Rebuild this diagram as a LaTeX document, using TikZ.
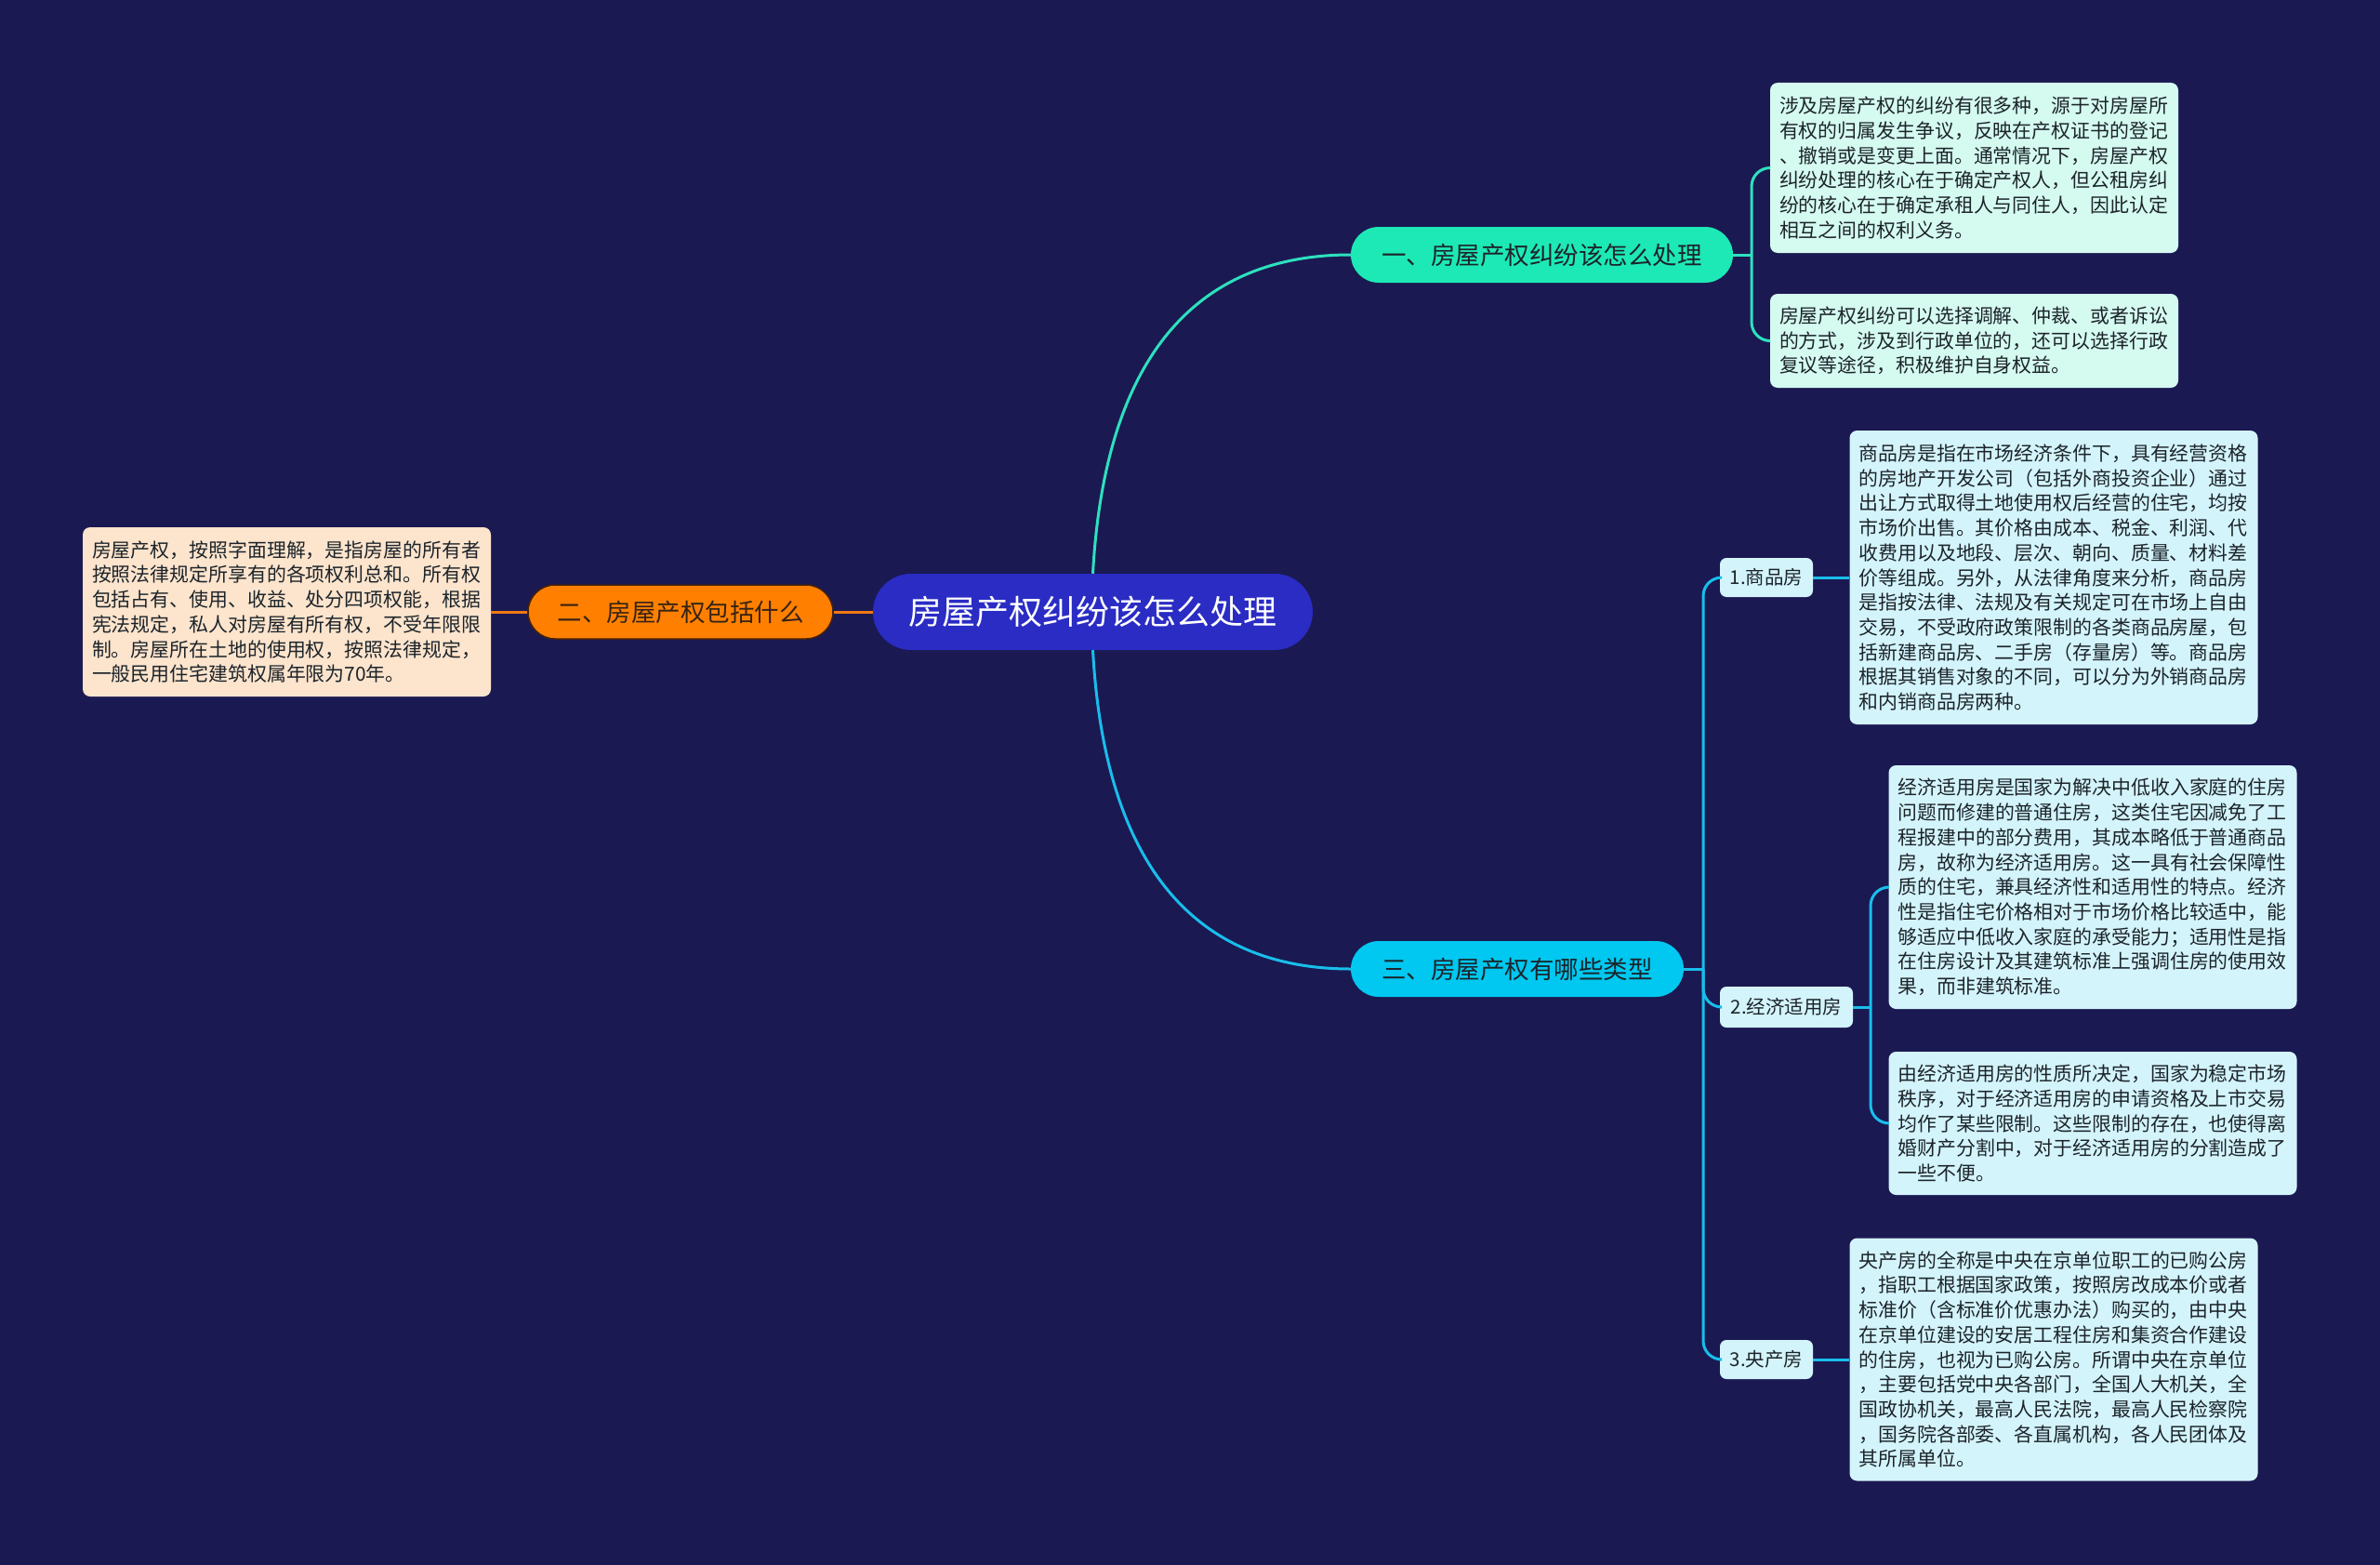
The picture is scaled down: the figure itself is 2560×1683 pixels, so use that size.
\documentclass[tikz,border=0pt]{standalone}
\usepackage{fontspec}
\newfontfamily\cjk{Noto Sans CJK SC}
\definecolor{bgc}{RGB}{27,25,82}
\definecolor{rootc}{RGB}{42,44,196}
\definecolor{tealc}{RGB}{29,233,182}
\definecolor{teall}{RGB}{45,225,190}
\definecolor{cyanc}{RGB}{0,200,240}
\definecolor{cyanl}{RGB}{24,190,235}
\definecolor{orangec}{RGB}{255,128,0}
\definecolor{orangel}{RGB}{240,120,20}
\definecolor{orangeb}{RGB}{70,35,10}
\definecolor{leafteal}{RGB}{213,250,240}
\definecolor{leafcyan}{RGB}{212,244,252}
\definecolor{leafpeach}{RGB}{253,228,205}
\definecolor{txtc}{RGB}{28,36,42}
\begin{document}
\begin{tikzpicture}[x=1pt,y=-1pt,
  rootnode/.style={fill=rootc,text=white,minimum width=473pt,minimum height=82pt,rounded corners=41pt,inner sep=0pt,font=\cjk\fontsize{36pt}{40pt}\selectfont},
  branch/.style={minimum height=60pt,rounded corners=30pt,inner sep=0pt,text=txtc,font=\cjk\fontsize{26.5pt}{30pt}\selectfont},
  subnode/.style={fill=leafcyan,rounded corners=7pt,inner sep=0pt,text=txtc,font=\cjk\fontsize{20.5pt}{24pt}\selectfont},
  leaf/.style={rounded corners=8pt,inner xsep=10pt,inner ysep=0pt,align=left,text=txtc,text width=419pt,font=\cjk\fontsize{20.9pt}{26.7pt}\selectfont},
  lteal/.style={draw=teall,line width=3pt},
  lcyan/.style={draw=cyanl,line width=3pt},
  lorange/.style={draw=orangel,line width=3pt},
  roundbend/.style={rounded corners=20pt}]
\useasboundingbox (0,0) rectangle (2560,1683);
\fill[bgc] (0,0) rectangle (2560,1683);
% nodes
\node[rootnode] (c) at (1175.5,658) {房屋产权纠纷该怎么处理};
\node[branch,fill=tealc,minimum width=411pt] (b1) at (1658.5,274) {一、房屋产权纠纷该怎么处理};
\node[branch,fill=orangec,draw=orangeb,line width=1.5pt,minimum width=328pt,minimum height=58pt,rounded corners=29pt,text={rgb,255:red,55;green,35;blue,20}] (b2) at (732,658) {二、房屋产权包括什么};
\node[branch,fill=cyanc,minimum width=358pt] (b3) at (1632,1042) {三、房屋产权有哪些类型};
\node[subnode,minimum width=100pt,minimum height=42pt] (s1) at (1900,621) {1.商品房};
\node[subnode,minimum width=143pt,minimum height=44pt] (s2) at (1921.5,1083) {2.经济适用房};
\node[subnode,minimum width=100pt,minimum height=42pt] (s3) at (1900,1462) {3.央产房};
\node[leaf,fill=leafteal,minimum height=183pt] (t1) at (2123.5,180.5) {涉及房屋产权的纠纷有很多种，源于对房屋所\\有权的归属发生争议，反映在产权证书的登记\\、撤销或是变更上面。通常情况下，房屋产权\\纠纷处理的核心在于确定产权人，但公租房纠\\纷的核心在于确定承租人与同住人，因此认定\\相互之间的权利义务。};
\node[leaf,fill=leafteal,minimum height=101pt] (t2) at (2123.5,366.5) {房屋产权纠纷可以选择调解、仲裁、或者诉讼\\的方式，涉及到行政单位的，还可以选择行政\\复议等途径，积极维护自身权益。};
\node[leaf,fill=leafpeach,minimum height=182pt] (lf) at (308.5,658) {房屋产权，按照字面理解，是指房屋的所有者\\按照法律规定所享有的各项权利总和。所有权\\包括占有、使用、收益、处分四项权能，根据\\宪法规定，私人对房屋有所有权，不受年限限\\制。房屋所在土地的使用权，按照法律规定，\\一般民用住宅建筑权属年限为70年。};
\node[leaf,fill=leafcyan,minimum height=316pt] (sp) at (2209,621) {商品房是指在市场经济条件下，具有经营资格\\的房地产开发公司（包括外商投资企业）通过\\出让方式取得土地使用权后经营的住宅，均按\\市场价出售。其价格由成本、税金、利润、代\\收费用以及地段、层次、朝向、质量、材料差\\价等组成。另外，从法律角度来分析，商品房\\是指按法律、法规及有关规定可在市场上自由\\交易，不受政府政策限制的各类商品房屋，包\\括新建商品房、二手房（存量房）等。商品房\\根据其销售对象的不同，可以分为外销商品房\\和内销商品房两种。};
\node[leaf,fill=leafcyan,minimum height=262pt] (ja) at (2251,954) {经济适用房是国家为解决中低收入家庭的住房\\问题而修建的普通住房，这类住宅因减免了工\\程报建中的部分费用，其成本略低于普通商品\\房，故称为经济适用房。这一具有社会保障性\\质的住宅，兼具经济性和适用性的特点。经济\\性是指住宅价格相对于市场价格比较适中，能\\够适应中低收入家庭的承受能力；适用性是指\\在住房设计及其建筑标准上强调住房的使用效\\果，而非建筑标准。};
\node[leaf,fill=leafcyan,minimum height=154pt] (jb) at (2251,1208) {由经济适用房的性质所决定，国家为稳定市场\\秩序，对于经济适用房的申请资格及上市交易\\均作了某些限制。这些限制的存在，也使得离\\婚财产分割中，对于经济适用房的分割造成了\\一些不便。};
\node[leaf,fill=leafcyan,minimum height=261pt] (yc) at (2209,1462) {央产房的全称是中央在京单位职工的已购公房\\，指职工根据国家政策，按照房改成本价或者\\标准价（含标准价优惠办法）购买的，由中央\\在京单位建设的安居工程住房和集资合作建设\\的住房，也视为已购公房。所谓中央在京单位\\，主要包括党中央各部门，全国人大机关，全\\国政协机关，最高人民法院，最高人民检察院\\，国务院各部委、各直属机构，各人民团体及\\其所属单位。};
% junctions
\coordinate (j1) at (1884,274);
\coordinate (j3) at (1832,1042);
\coordinate (j4) at (2012,1083);
% connectors
\draw[lteal] (c.north) .. controls +(13,-237) and +(-163,0) .. (b1.west);
\draw[lcyan] (c.south) .. controls +(13,237) and +(-163,0) .. (b3.west);
\draw[lorange] (c.west) -- (b2.east);
\draw[lorange] (b2.west) -- (lf.east);
\draw[lteal] (b1.east) -- (j1);
\draw[lteal,roundbend] (j1) |- (t1.west);
\draw[lteal,roundbend] (j1) |- (t2.west);
\draw[lcyan] (b3.east) -- (j3);
\draw[lcyan,roundbend] (j3) |- (s1.west);
\draw[lcyan,roundbend] (j3) |- (s2.west);
\draw[lcyan,roundbend] (j3) |- (s3.west);
\draw[lcyan] (s1.east) -- (sp.west);
\draw[lcyan] (s3.east) -- (yc.west);
\draw[lcyan] (s2.east) -- (j4);
\draw[lcyan,roundbend] (j4) |- (ja.west);
\draw[lcyan,roundbend] (j4) |- (jb.west);
\end{tikzpicture}
\end{document}
